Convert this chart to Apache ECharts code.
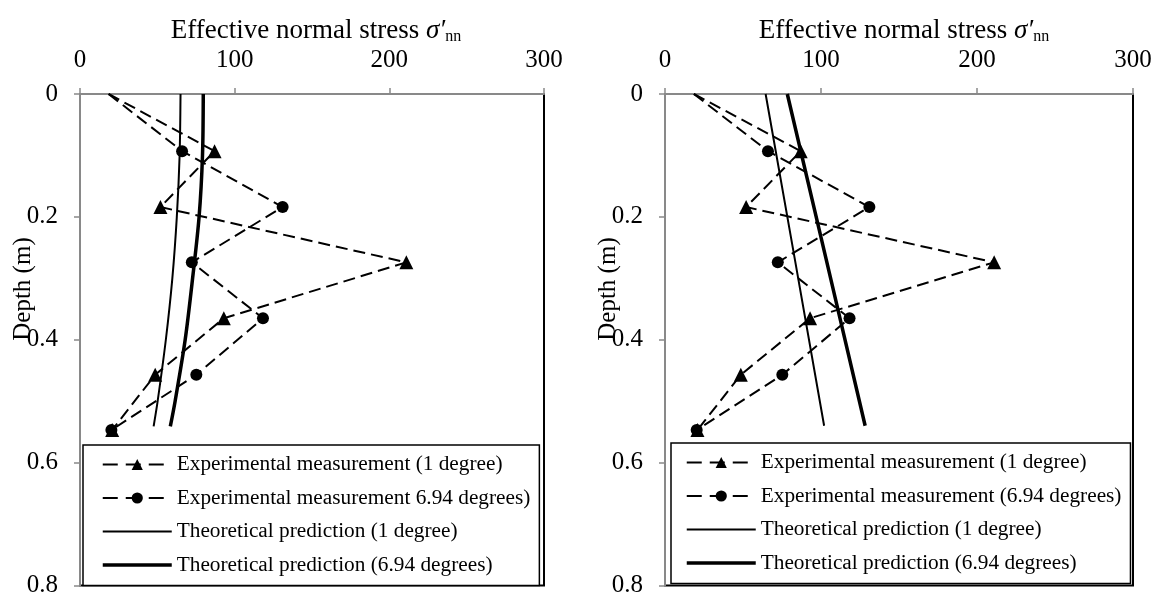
<!DOCTYPE html>
<html>
<head>
<meta charset="utf-8">
<script src="https://cdn.jsdelivr.net/npm/echarts@6/dist/echarts.min.js"></script>
<style>
  html, body { margin: 0; padding: 0; background: #fff; }
  #chart { width: 1155px; height: 598px; }
</style>
</head>
<body>
<div id="chart"></div>
<script>
// depth (m) of the measurement points
var measDepth = [0, 0.093, 0.184, 0.274, 0.365, 0.457, 0.547];
// experimental effective normal stress
var measOneDeg = [18.5, 87, 52, 211, 93, 48.6, 20.8];
var measSixDeg = [18.5, 66, 131, 72.3, 118.3, 75.2, 20.3];

// theoretical curves, left panel
var theoDepthL = [0, 0.1, 0.2, 0.3, 0.4, 0.5, 0.541];
var theoOneDegL = [65, 64.4, 62.6, 59.7, 55.5, 50.2, 47.6];
var theoSixDegL = [79.7, 79.2, 77, 72.8, 68, 61.5, 58.4];

// theoretical lines, right panel
var theoDepthR = [0, 0.27, 0.54];
var theoOneDegR = [64.5, 83.3, 102];
var theoSixDegR = [78.4, 103.4, 128.3];

var xTicks = [0, 100, 200, 300];
var yTicks = [0, 0.2, 0.4, 0.6, 0.8];

var namesLeft = ['Experimental measurement (1 degree)', 'Experimental measurement 6.94 degrees)',
  'Theoretical prediction (1 degree)', 'Theoretical prediction (6.94 degrees)'];
var namesRight = ['Experimental measurement (1 degree)', 'Experimental measurement (6.94 degrees)',
  'Theoretical prediction (1 degree)', 'Theoretical prediction (6.94 degrees)'];

var FONT = '"Liberation Serif", "Times New Roman", serif';
var GRAY = '#898989';

function pairs(xs, ys, hideFirst) {
  var out = [];
  for (var i = 0; i < xs.length; i++) {
    var item = { value: [xs[i], ys[i]] };
    if (hideFirst && i == 0) item.symbol = 'none';
    out.push(item);
  }
  return out;
}

function makeX(idx) {
  return {
    gridIndex: idx, type: 'value', position: 'top',
    min: xTicks[0], max: xTicks[xTicks.length - 1], interval: 100,
    axisLine: { onZero: false, lineStyle: { color: GRAY, width: 2 } },
    axisTick: { length: 6, lineStyle: { color: GRAY, width: 1.5 } },
    axisLabel: { margin: 21, color: '#000', fontSize: 25, fontFamily: FONT },
    splitLine: { show: false }
  };
}
function makeY(idx) {
  return {
    gridIndex: idx, type: 'value', inverse: true,
    min: yTicks[0], max: yTicks[yTicks.length - 1], interval: 0.2,
    axisLine: { onZero: false, lineStyle: { color: GRAY, width: 2 } },
    axisTick: { length: 6, lineStyle: { color: GRAY, width: 1.5 } },
    axisLabel: { margin: 22, color: '#000', fontSize: 25, fontFamily: FONT },
    splitLine: { show: false }
  };
}

function panelSeries(idx, names, thinX, thickX, theoDepth, smooth) {
  return [
    {
      name: names[0], type: 'line', xAxisIndex: idx, yAxisIndex: idx,
      data: pairs(measOneDeg, measDepth, true),
      symbol: 'triangle', symbolSize: 14,
      lineStyle: { color: '#000', width: 2, type: [12, 6] },
      itemStyle: { color: '#000' }
    },
    {
      name: names[1], type: 'line', xAxisIndex: idx, yAxisIndex: idx,
      data: pairs(measSixDeg, measDepth, true),
      symbol: 'circle', symbolSize: 12,
      lineStyle: { color: '#000', width: 2, type: [12, 6] },
      itemStyle: { color: '#000' }
    },
    {
      name: names[2], type: 'line', xAxisIndex: idx, yAxisIndex: idx,
      data: pairs(thinX, theoDepth), symbol: 'none', smooth: smooth,
      lineStyle: { color: '#000', width: 2 }, itemStyle: { color: '#000' }
    },
    {
      name: names[3], type: 'line', xAxisIndex: idx, yAxisIndex: idx,
      data: pairs(thickX, theoDepth), symbol: 'none', smooth: smooth,
      lineStyle: { color: '#000', width: 3.5 }, itemStyle: { color: '#000' }
    }
  ];
}

function makeTitle(center) {
  return {
    left: center, top: 12, textAlign: 'center',
    text: '{a|Effective normal stress }{s|σ′}{b|nn}',
    textStyle: {
      fontWeight: 'normal',
      rich: {
        a: { fontSize: 27, fontFamily: FONT, fontWeight: 'normal', color: '#000' },
        s: { fontSize: 27, fontFamily: FONT, fontWeight: 'normal', fontStyle: 'italic', color: '#000' },
        b: { fontSize: 16, fontFamily: FONT, fontWeight: 'normal', color: '#000', padding: [12, 0, 0, 0] }
      }
    }
  };
}

function makeLegend(names, left, top, padLeft) {
  var dashed = { type: [15, 8], width: 2 };
  return {
    orient: 'vertical', left: left, top: top,
    data: [
      { name: names[0], lineStyle: dashed },
      { name: names[1], lineStyle: dashed },
      { name: names[2], itemStyle: { opacity: 0 }, lineStyle: { width: 2 } },
      { name: names[3], itemStyle: { opacity: 0 }, lineStyle: { width: 3.5 } }
    ],
    padding: [9, 9, 10, padLeft],
    itemWidth: 69, itemHeight: 14, itemGap: 12.5,
    backgroundColor: '#fff', borderColor: '#000', borderWidth: 1.5,
    textStyle: { fontSize: 21.3, lineHeight: 21, fontFamily: FONT, color: '#000' },
    selectedMode: false
  };
}

var myChart = echarts.init(document.getElementById('chart'));
var option = {
  animation: false,
  backgroundColor: '#fff',
  title: [makeTitle(311), makeTitle(899)],
  grid: [
    { left: 80, top: 94, width: 464, height: 495, show: true, borderColor: '#000', borderWidth: 2 },
    { left: 665, top: 94, width: 468, height: 495, show: true, borderColor: '#000', borderWidth: 2 }
  ],
  xAxis: [makeX(0), makeX(1)],
  yAxis: [makeY(0), makeY(1)],
  legend: [makeLegend(namesLeft, 83, 445, 18), makeLegend(namesRight, 671, 443, 14)],
  graphic: [
    { type: 'text', x: 23, y: 289, rotation: Math.PI / 2,
      style: { text: 'Depth (m)', font: '25px ' + FONT, fill: '#000', textAlign: 'center', textVerticalAlign: 'middle' } },
    { type: 'text', x: 608, y: 289, rotation: Math.PI / 2,
      style: { text: 'Depth (m)', font: '25px ' + FONT, fill: '#000', textAlign: 'center', textVerticalAlign: 'middle' } }
  ],
  series: panelSeries(0, namesLeft, theoOneDegL, theoSixDegL, theoDepthL, 0.3)
    .concat(panelSeries(1, namesRight, theoOneDegR, theoSixDegR, theoDepthR, false))
};
myChart.setOption(option);
window.addEventListener('resize', function () { myChart.resize(); });
</script>
</body>
</html>
